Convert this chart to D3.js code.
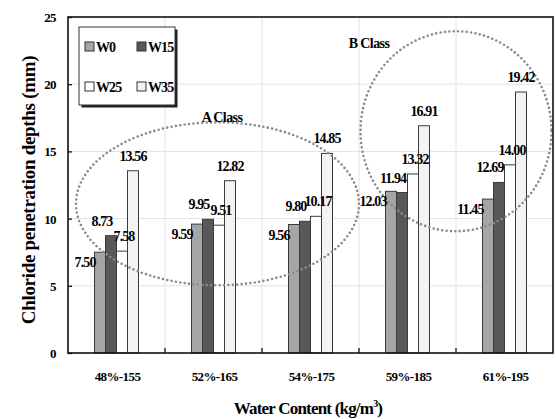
<!DOCTYPE html>
<html>
<head>
<meta charset="utf-8">
<script src="https://cdn.jsdelivr.net/npm/d3@7"></script>
<style>
  body { margin: 0; background: #fff; }
  text { font-family: "Liberation Serif", "DejaVu Serif", serif; font-weight: bold; }
</style>
</head>
<body>
<div id="chart"></div>
<script>
// data
const categories = ["48%-155", "52%-165", "54%-175", "59%-185", "61%-195"];
const seriesNames = ["W0", "W15", "W25", "W35"];
const W0  = [7.50, 9.59, 9.56, 12.03, 11.45];
const W15 = [8.73, 9.95, 9.80, 11.94, 12.69];
const W25 = [7.58, 9.51, 10.17, 13.32, 14.00];
const W35 = [13.56, 12.82, 14.85, 16.91, 19.42];
const yTicks = [0, 5, 10, 15, 20, 25];
const colors = ["#a6a6a6", "#585858", "#ffffff", "#f3f3f3"];

const series = [W0, W15, W25, W35];

const width = 556, height = 419;
const margin = {top: 17, right: 3, bottom: 66, left: 68};

let svg = d3.select("#chart")
  .append("svg")
  .attr("width", width)
  .attr("height", height);

let x = d3.scaleBand()
  .domain(categories)
  .range([margin.left, width - margin.right])
  .paddingInner(0)
  .paddingOuter(0);

// bars take ~11px of the ~97px group
let xs = d3.scaleBand()
  .domain(seriesNames)
  .range([0, x.bandwidth()])
  .paddingInner(0)
  .paddingOuter(2.41);

let y = d3.scaleLinear()
  .domain([0, 25])
  .range([height - margin.bottom, margin.top]);

let plotL = margin.left, plotR = width - margin.right;
let plotT = margin.top, plotB = height - margin.bottom;

// grid
let grid = svg.append("g").attr("stroke", "#e2e2e2").attr("stroke-width", 1);
yTicks.filter(d => d > 0 && d < 25).forEach(d => {
  grid.append("line")
    .attr("x1", plotL).attr("x2", plotR)
    .attr("y1", y(d)).attr("y2", y(d));
});
categories.slice(1).forEach(c => {
  grid.append("line")
    .attr("x1", x(c)).attr("x2", x(c))
    .attr("y1", plotT).attr("y2", plotB);
});

// bars
let bw = xs.bandwidth();
series.forEach((vals, si) => {
  svg.append("g")
    .selectAll("rect")
    .data(vals)
    .join("rect")
      .attr("x", (d, i) => x(categories[i]) + xs(seriesNames[si]))
      .attr("y", d => y(d))
      .attr("width", bw)
      .attr("height", d => y(0) - y(d))
      .attr("fill", colors[si])
      .attr("stroke", "#3a3a3a")
      .attr("stroke-width", 1);
});

// dotted class ellipses
let ellipses = svg.append("g")
  .attr("fill", "none")
  .attr("stroke", "#8a8a8a")
  .attr("stroke-width", 2.6)
  .attr("stroke-linecap", "round")
  .attr("stroke-dasharray", "0 4.4");
ellipses.append("ellipse")
  .attr("cx", (x(categories[0]) + x(categories[3])) / 2 + 4)
  .attr("cy", y(11.1)).attr("rx", 141.5).attr("ry", 81.5);
ellipses.append("ellipse")
  .attr("cx", x(categories[4]) ).attr("cy", y(16.5))
  .attr("rx", 95.5).attr("ry", 100);

svg.append("text")
  .attr("x", 222).attr("y", 122)
  .attr("text-anchor", "middle")
  .attr("font-size", 14).attr("letter-spacing", -0.6)
  .text("A  Class");
svg.append("text")
  .attr("x", 369).attr("y", 48)
  .attr("text-anchor", "middle")
  .attr("font-size", 14).attr("letter-spacing", -0.6)
  .text("B  Class");

// value labels
series.forEach((vals, si) => {
  svg.append("g")
    .selectAll("text")
    .data(vals)
    .join("text")
      .attr("x", (d, i) => {
        let bx = x(categories[i]) + xs(seriesNames[si]);
        if (si === 0) return bx + 1;
        if (si === 1) return bx + bw / 2 - 9;
        if (si === 2) return bx + bw / 2 + 2;
        return bx + bw / 2;
      })
      .attr("y", d => si === 0 ? y(d) + 15 : y(d) - 10)
      .attr("text-anchor", si === 0 ? "end" : "middle")
      .attr("font-size", 14)
      .attr("letter-spacing", -0.9)
      .text(d => d.toFixed(2));
});

// frame
svg.append("rect")
  .attr("x", plotL).attr("y", plotT)
  .attr("width", plotR - plotL).attr("height", plotB - plotT)
  .attr("fill", "none").attr("stroke", "#111").attr("stroke-width", 1.6);

// y axis
let yAxis = svg.append("g")
  .attr("transform", `translate(${plotL},0)`)
  .call(d3.axisRight(y).tickValues(yTicks).tickSize(4).tickFormat(""));
yAxis.select(".domain").remove();
yAxis.selectAll("line").attr("stroke", "#111").attr("stroke-width", 1.3);

svg.append("g")
  .selectAll("text")
  .data(yTicks)
  .join("text")
    .attr("x", 56)
    .attr("y", d => y(d) + 5)
    .attr("text-anchor", "end")
    .attr("font-size", 13)
    .attr("letter-spacing", -0.6)
    .text(d => d);

// x axis: ticks at the category boundaries, pointing up
let xb = svg.append("g").attr("stroke", "#111").attr("stroke-width", 1.3);
categories.slice(1).forEach(c => {
  xb.append("line")
    .attr("x1", x(c)).attr("x2", x(c))
    .attr("y1", plotB).attr("y2", plotB - 5);
});

svg.append("g")
  .selectAll("text")
  .data(categories)
  .join("text")
    .attr("x", d => x(d) + x.bandwidth() / 2 + 1)
    .attr("y", 381)
    .attr("text-anchor", "middle")
    .attr("font-size", 13)
    .attr("letter-spacing", -0.6)
    .text(d => d);

// axis titles
svg.append("text")
  .attr("transform", "translate(35,190) rotate(-90)")
  .attr("text-anchor", "middle")
  .attr("font-size", 19)
  .attr("letter-spacing", -0.3)
  .text("Chloride penetration depths (mm)");

let xt = svg.append("text")
  .attr("x", 308).attr("y", 414)
  .attr("text-anchor", "middle")
  .attr("font-size", 17)
  .attr("letter-spacing", -0.8);
xt.append("tspan").text("Water Content (kg/m");
xt.append("tspan").attr("font-size", 10).attr("dy", -7).text("3");
xt.append("tspan").attr("dy", 7).text(")");

// legend
let lg = svg.append("g").attr("transform", "translate(79,27)");
lg.append("rect")
  .attr("x", 2.5).attr("y", 2.5).attr("width", 96).attr("height", 78)
  .attr("fill", "#222");
lg.append("rect")
  .attr("x", 0).attr("y", 0).attr("width", 96).attr("height", 78)
  .attr("fill", "#fff").attr("stroke", "#333").attr("stroke-width", 1);
let lpos = [[6, 20], [58, 20], [6, 60], [58, 60]];
seriesNames.forEach((n, i) => {
  let g = lg.append("g").attr("transform", `translate(${lpos[i][0]},${lpos[i][1]})`);
  g.append("rect")
    .attr("x", 0).attr("y", -5).attr("width", 9).attr("height", 9)
    .attr("fill", colors[i]).attr("stroke", "#333").attr("stroke-width", 1);
  g.append("text")
    .attr("x", 11).attr("y", 5)
    .attr("font-size", 14)
    .attr("letter-spacing", -0.9)
    .text(n);
});
</script>
</body>
</html>
